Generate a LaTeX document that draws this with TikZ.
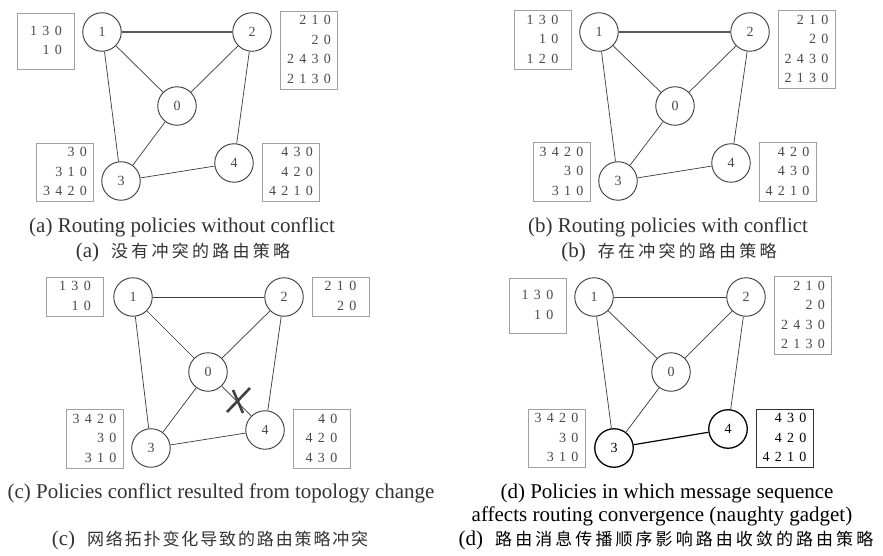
\documentclass[tikz,border=0pt]{standalone}
\usepackage{fontspec}
\setmainfont{Liberation Serif}
\newfontfamily\cjk{Noto Sans CJK SC}
\definecolor{linec}{HTML}{3A3A3A}
\definecolor{boxc}{HTML}{A0A0A0}
\definecolor{txtc}{HTML}{4A4A4A}
\definecolor{capc}{HTML}{333333}
\newcommand{\dg}{\hspace{5.3pt}}
\newcommand{\rows}[1]{\begin{tabular}{@{}r@{}}#1\end{tabular}}
\newcommand{\zh}[2]{{\fontsize{17}{20}\selectfont\cjk\addfontfeature{LetterSpace=#1}#2}}
\begin{document}
\begin{tikzpicture}[x=1pt,y=-1pt,
  vtx/.style={circle, draw=linec, line width=0.9pt, minimum size=38.5pt, inner sep=0pt,
    font=\fontsize{14}{16}\selectfont, text=txtc},
  tbl/.style={draw=boxc, line width=0.8pt, inner xsep=2pt, inner ysep=0pt,
    font=\fontsize{14}{19.5}\selectfont, text=txtc, minimum width=57pt},
  edge/.style={draw=linec, line width=0.7pt},
  topedge/.style={draw=linec!85, line width=1.1pt},
  captext/.style={font=\fontsize{21}{23}\selectfont, text=capc, inner sep=0pt},
  xmark/.style={draw=black!75, line width=2.6pt},
  strong/.style={draw=black, line width=1.3pt, text=black}]
\useasboundingbox (0,0) rectangle (883,556);
\fill[white] (0,0) rectangle (883,556);

% ---------- panel (a)
\node[vtx] (a1) at (102,32) {1};
\node[vtx] (a2) at (252,32) {2};
\node[vtx] (a0) at (177,106) {0};
\node[vtx] (a3) at (121,181) {3};
\node[vtx] (a4) at (234,163) {4};
\draw[topedge] (a1) -- (a2);
\draw[edge] (a1) -- (a0) (a1) -- (a3) (a2) -- (a0) (a2) -- (a4) (a0) -- (a3) (a3) -- (a4);
\node[tbl, minimum height=56pt] (atl) at (46,41) {\rows{1\dg3\dg0\\1\dg0}};
\node[tbl, minimum height=74pt] (atr) at (309,50) {\rows{2\dg1\dg0\\2\dg0\\2\dg4\dg3\dg0\\2\dg1\dg3\dg0}};
\node[tbl, minimum height=55pt] (abl) at (65,172.5) {\rows{3\dg0\\3\dg1\dg0\\3\dg4\dg2\dg0}};
\node[tbl, minimum height=55pt] (abr) at (291,172.5) {\rows{4\dg3\dg0\\4\dg2\dg0\\4\dg2\dg1\dg0}};
\node[captext] (capa) at (182,227) {(a) Routing policies without conflict};
\node[captext] (capaz) at (183,252) {(a)\hspace{12pt}\zh{19}{没有冲突的路由策略}};

% ---------- panel (b)
\node[vtx] (b1) at (599,32) {1};
\node[vtx] (b2) at (750,32) {2};
\node[vtx] (b0) at (675,106) {0};
\node[vtx] (b3) at (618,181) {3};
\node[vtx] (b4) at (731,163) {4};
\draw[topedge] (b1) -- (b2);
\draw[edge] (b1) -- (b0) (b1) -- (b3) (b2) -- (b0) (b2) -- (b4) (b0) -- (b3) (b3) -- (b4);
\node[tbl, minimum height=56pt] (btl) at (542.5,40) {\rows{1\dg3\dg0\\1\dg0\\1\dg2\dg0}};
\node[tbl, minimum height=75pt] (btr) at (806.5,49.5) {\rows{2\dg1\dg0\\2\dg0\\2\dg4\dg3\dg0\\2\dg1\dg3\dg0}};
\node[tbl, minimum height=56pt] (bbl) at (561.5,172) {\rows{3\dg4\dg2\dg0\\3\dg0\\3\dg1\dg0}};
\node[tbl, minimum height=56pt] (bbr) at (787.5,172) {\rows{4\dg2\dg0\\4\dg3\dg0\\4\dg2\dg1\dg0}};
\node[captext] (capb) at (668,227) {(b) Routing policies with conflict};
\node[captext] (capbz) at (669,252) {(b)\hspace{12pt}\zh{19}{存在冲突的路由策略}};

% ---------- panel (c)
\node[vtx] (c1) at (133,297) {1};
\node[vtx] (c2) at (284,297) {2};
\node[vtx] (c0) at (208,372) {0};
\node[vtx] (c3) at (151,448) {3};
\node[vtx] (c4) at (265,430) {4};
\draw[edge] (c1) -- (c2);
\draw[edge] (c1) -- (c0) (c1) -- (c3) (c2) -- (c0) (c2) -- (c4) (c0) -- (c3) (c3) -- (c4) (c0) -- (c4);
\coordinate (xm) at (238,401);
\draw[xmark] (xm) ++(-11,11) -- ++(23,-24);
\draw[xmark] (xm) ++(-5,-11) -- ++(10,23);
\node[tbl, minimum height=37pt] (ctl) at (75,296.5) {\rows{1\dg3\dg0\\1\dg0}};
\node[tbl, minimum height=37pt] (ctr) at (340.5,296.5) {\rows{2\dg1\dg0\\2\dg0}};
\node[tbl, minimum height=56pt] (cbl) at (94.5,439) {\rows{3\dg4\dg2\dg0\\3\dg0\\3\dg1\dg0}};
\node[tbl, minimum height=56pt] (cbr) at (321.5,439) {\rows{4\dg0\\4\dg2\dg0\\4\dg3\dg0}};
\node[captext] (capc) at (221,493) {(c) Policies conflict resulted from topology change};
\node[captext] (capcz) at (210,540) {(c)\hspace{12pt}\zh{11}{网络拓扑变化导致的路由策略冲突}};

% ---------- panel (d)
\node[vtx] (d1) at (594,297) {1};
\node[vtx] (d2) at (746,297) {2};
\node[vtx] (d0) at (671,372) {0};
\node[vtx, strong] (d3) at (614,448) {3};
\node[vtx, strong] (d4) at (728,429) {4};
\draw[edge] (d1) -- (d2);
\draw[edge] (d1) -- (d0) (d1) -- (d3) (d2) -- (d0) (d2) -- (d4) (d0) -- (d3);
\draw[draw=black, line width=1.2pt] (d3) -- (d4);
\node[tbl, minimum height=55pt] (dtl) at (537.5,305.5) {\rows{1\dg3\dg0\\1\dg0}};
\node[tbl, minimum height=75pt] (dtr) at (803,315.5) {\rows{2\dg1\dg0\\2\dg0\\2\dg4\dg3\dg0\\2\dg1\dg3\dg0}};
\node[tbl, minimum height=57pt] (dbl) at (556.5,438.5) {\rows{3\dg4\dg2\dg0\\3\dg0\\3\dg1\dg0}};
\node[tbl, minimum height=57pt, draw=black!80, line width=1pt, text=black] (dbr) at (784.5,438.5) {\rows{4\dg3\dg0\\4\dg2\dg0\\4\dg2\dg1\dg0}};
\node[captext, text=black] (capd1) at (667,493) {(d) Policies in which message sequence};
\node[captext, text=black] (capd2) at (662,516) {affects routing convergence (naughty gadget)};
\node[captext, text=black] (capdz) at (666,540) {(d)\hspace{12pt}\zh{18}{路由消息传播顺序影响路由收敛的路由策略}};
\end{tikzpicture}
\end{document}
